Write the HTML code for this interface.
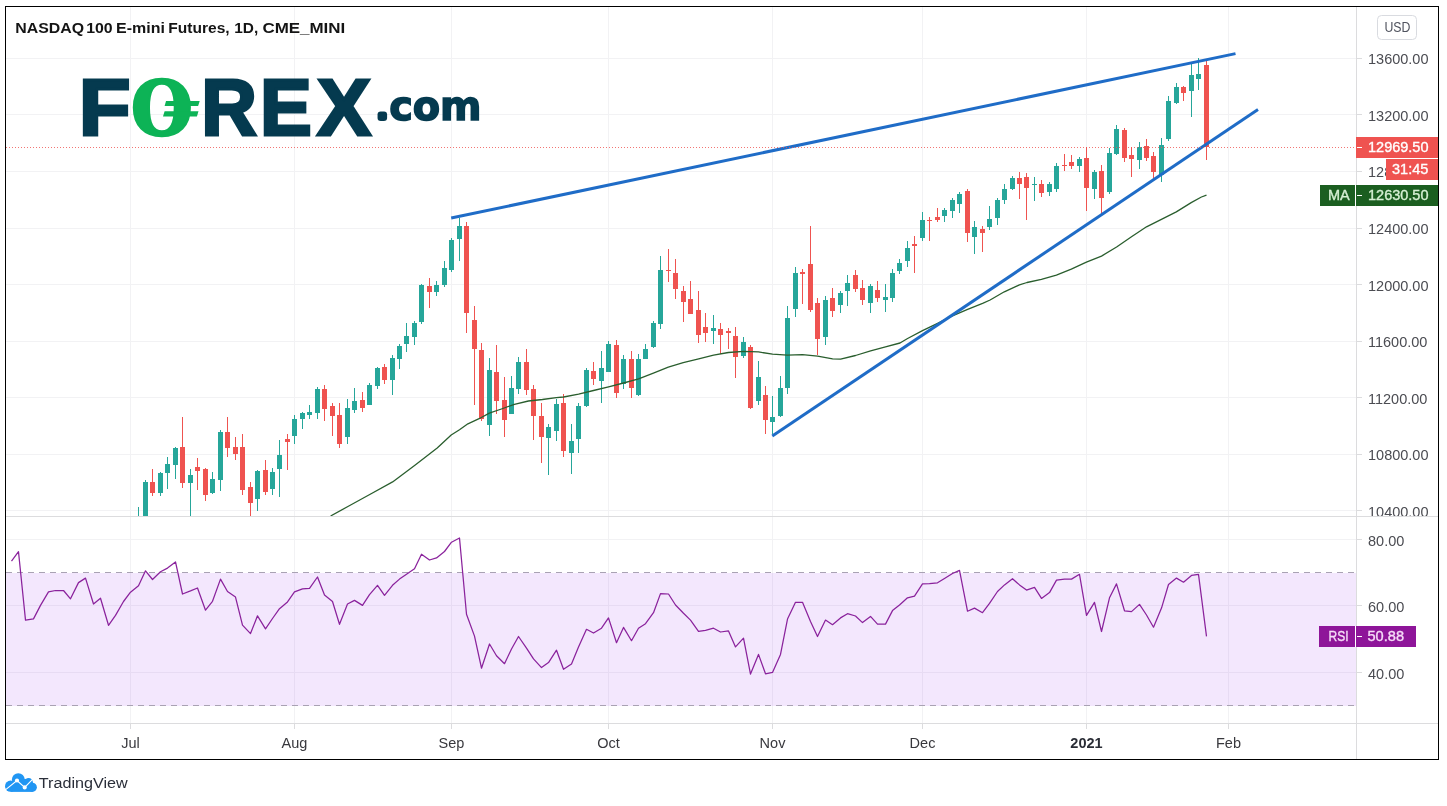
<!DOCTYPE html>
<html lang="en"><head><meta charset="utf-8"><title>NASDAQ 100 E-mini Futures, 1D, CME_MINI</title>
<style>
html,body{margin:0;padding:0;background:#fff;}
body{width:1447px;height:806px;overflow:hidden;position:relative;font-family:"Liberation Sans",sans-serif;}
svg{position:absolute;left:0;top:0;display:block;}
text{font-family:"Liberation Sans",sans-serif;}
.ax{font-size:14.5px;fill:#4b4c52;}
.lab{font-size:14.5px;fill:#fff;stroke:#fff;stroke-width:0.35px;}
.tm{font-size:14.5px;fill:#38383d;text-anchor:middle;}
</style></head><body>
<svg width="1447" height="806" viewBox="0 0 1447 806">
<rect x="0" y="0" width="1447" height="806" fill="#fff"/>
<defs><clipPath id="cm"><rect x="6" y="7" width="1350" height="509"/></clipPath><clipPath id="cr"><rect x="6" y="517" width="1350" height="206"/></clipPath><clipPath id="ca"><rect x="1357" y="7" width="81" height="509"/></clipPath></defs>
<g shape-rendering="crispEdges" fill="#f2f2f4">
<rect x="130" y="7" width="1" height="716"/>
<rect x="294" y="7" width="1" height="716"/>
<rect x="451" y="7" width="1" height="716"/>
<rect x="608" y="7" width="1" height="716"/>
<rect x="772" y="7" width="1" height="716"/>
<rect x="922" y="7" width="1" height="716"/>
<rect x="1086" y="7" width="1" height="716"/>
<rect x="1228" y="7" width="1" height="716"/>
<rect x="6" y="58" width="1350" height="1"/>
<rect x="6" y="114" width="1350" height="1"/>
<rect x="6" y="171" width="1350" height="1"/>
<rect x="6" y="228" width="1350" height="1"/>
<rect x="6" y="284" width="1350" height="1"/>
<rect x="6" y="341" width="1350" height="1"/>
<rect x="6" y="397" width="1350" height="1"/>
<rect x="6" y="454" width="1350" height="1"/>
<rect x="6" y="510" width="1350" height="1"/>
<rect x="6" y="539" width="1350" height="1"/>
<rect x="6" y="605" width="1350" height="1"/>
<rect x="6" y="672" width="1350" height="1"/>
</g>
<rect x="6" y="573" width="1350" height="133" fill="rgb(150,40,235)" fill-opacity="0.115"/>
<line x1="6" y1="572.5" x2="1356" y2="572.5" stroke="#a9a2b3" stroke-width="1" stroke-dasharray="6 5" shape-rendering="crispEdges"/>
<line x1="6" y1="705.5" x2="1356" y2="705.5" stroke="#a9a2b3" stroke-width="1" stroke-dasharray="6 5" shape-rendering="crispEdges"/>
<g clip-path="url(#cm)" shape-rendering="crispEdges">
<rect x="138" y="507" width="1" height="220" fill="#26a69a"/><rect x="136" y="528" width="5" height="199" fill="#26a69a"/>
<rect x="145" y="480" width="1" height="247" fill="#26a69a"/><rect x="143" y="482" width="5" height="245" fill="#26a69a"/>
<rect x="152" y="469" width="1" height="27" fill="#ef5350"/><rect x="150" y="482" width="5" height="11" fill="#ef5350"/>
<rect x="160" y="472" width="1" height="24" fill="#26a69a"/><rect x="158" y="473" width="5" height="20" fill="#26a69a"/>
<rect x="167" y="457" width="1" height="32" fill="#26a69a"/><rect x="165" y="464" width="5" height="9" fill="#26a69a"/>
<rect x="175" y="447" width="1" height="32" fill="#26a69a"/><rect x="173" y="448" width="5" height="17" fill="#26a69a"/>
<rect x="182" y="417" width="1" height="71" fill="#ef5350"/><rect x="180" y="447" width="5" height="36" fill="#ef5350"/>
<rect x="190" y="469" width="1" height="258" fill="#26a69a"/><rect x="188" y="475" width="5" height="8" fill="#26a69a"/>
<rect x="197" y="458" width="1" height="32" fill="#ef5350"/><rect x="195" y="467" width="5" height="4" fill="#ef5350"/>
<rect x="205" y="468" width="1" height="33" fill="#ef5350"/><rect x="203" y="469" width="5" height="26" fill="#ef5350"/>
<rect x="212" y="472" width="1" height="22" fill="#26a69a"/><rect x="210" y="479" width="5" height="14" fill="#26a69a"/>
<rect x="220" y="430" width="1" height="61" fill="#26a69a"/><rect x="218" y="432" width="5" height="48" fill="#26a69a"/>
<rect x="227" y="417" width="1" height="40" fill="#ef5350"/><rect x="225" y="432" width="5" height="16" fill="#ef5350"/>
<rect x="235" y="437" width="1" height="23" fill="#ef5350"/><rect x="233" y="447" width="5" height="7" fill="#ef5350"/>
<rect x="242" y="434" width="1" height="61" fill="#ef5350"/><rect x="240" y="447" width="5" height="43" fill="#ef5350"/>
<rect x="250" y="482" width="1" height="245" fill="#ef5350"/><rect x="248" y="487" width="5" height="16" fill="#ef5350"/>
<rect x="257" y="470" width="1" height="41" fill="#26a69a"/><rect x="255" y="471" width="5" height="28" fill="#26a69a"/>
<rect x="265" y="460" width="1" height="35" fill="#ef5350"/><rect x="263" y="470" width="5" height="22" fill="#ef5350"/>
<rect x="272" y="468" width="1" height="27" fill="#26a69a"/><rect x="270" y="472" width="5" height="17" fill="#26a69a"/>
<rect x="279" y="440" width="1" height="57" fill="#26a69a"/><rect x="277" y="455" width="5" height="14" fill="#26a69a"/>
<rect x="287" y="434" width="1" height="36" fill="#ef5350"/><rect x="285" y="439" width="5" height="3" fill="#ef5350"/>
<rect x="294" y="415" width="1" height="29" fill="#26a69a"/><rect x="292" y="419" width="5" height="17" fill="#26a69a"/>
<rect x="302" y="412" width="1" height="17" fill="#26a69a"/><rect x="300" y="413" width="5" height="6" fill="#26a69a"/>
<rect x="309" y="405" width="1" height="14" fill="#26a69a"/><rect x="307" y="412" width="5" height="3" fill="#26a69a"/>
<rect x="317" y="387" width="1" height="32" fill="#26a69a"/><rect x="315" y="389" width="5" height="24" fill="#26a69a"/>
<rect x="324" y="385" width="1" height="36" fill="#ef5350"/><rect x="322" y="389" width="5" height="20" fill="#ef5350"/>
<rect x="332" y="403" width="1" height="33" fill="#ef5350"/><rect x="330" y="406" width="5" height="10" fill="#ef5350"/>
<rect x="339" y="403" width="1" height="45" fill="#ef5350"/><rect x="337" y="415" width="5" height="29" fill="#ef5350"/>
<rect x="347" y="399" width="1" height="45" fill="#26a69a"/><rect x="345" y="408" width="5" height="29" fill="#26a69a"/>
<rect x="354" y="388" width="1" height="25" fill="#26a69a"/><rect x="352" y="401" width="5" height="9" fill="#26a69a"/>
<rect x="362" y="392" width="1" height="20" fill="#ef5350"/><rect x="360" y="400" width="5" height="8" fill="#ef5350"/>
<rect x="369" y="383" width="1" height="22" fill="#26a69a"/><rect x="367" y="385" width="5" height="20" fill="#26a69a"/>
<rect x="377" y="367" width="1" height="22" fill="#26a69a"/><rect x="375" y="368" width="5" height="18" fill="#26a69a"/>
<rect x="384" y="364" width="1" height="20" fill="#ef5350"/><rect x="382" y="367" width="5" height="13" fill="#ef5350"/>
<rect x="392" y="355" width="1" height="40" fill="#26a69a"/><rect x="390" y="358" width="5" height="22" fill="#26a69a"/>
<rect x="399" y="344" width="1" height="25" fill="#26a69a"/><rect x="397" y="346" width="5" height="13" fill="#26a69a"/>
<rect x="406" y="323" width="1" height="29" fill="#26a69a"/><rect x="404" y="336" width="5" height="8" fill="#26a69a"/>
<rect x="414" y="321" width="1" height="24" fill="#26a69a"/><rect x="412" y="323" width="5" height="14" fill="#26a69a"/>
<rect x="421" y="284" width="1" height="40" fill="#26a69a"/><rect x="419" y="285" width="5" height="37" fill="#26a69a"/>
<rect x="429" y="278" width="1" height="30" fill="#ef5350"/><rect x="427" y="286" width="5" height="6" fill="#ef5350"/>
<rect x="436" y="281" width="1" height="15" fill="#26a69a"/><rect x="434" y="285" width="5" height="7" fill="#26a69a"/>
<rect x="444" y="261" width="1" height="26" fill="#26a69a"/><rect x="442" y="268" width="5" height="17" fill="#26a69a"/>
<rect x="451" y="238" width="1" height="34" fill="#26a69a"/><rect x="449" y="240" width="5" height="30" fill="#26a69a"/>
<rect x="459" y="218" width="1" height="43" fill="#26a69a"/><rect x="457" y="226" width="5" height="13" fill="#26a69a"/>
<rect x="466" y="222" width="1" height="111" fill="#ef5350"/><rect x="464" y="226" width="5" height="87" fill="#ef5350"/>
<rect x="474" y="306" width="1" height="99" fill="#ef5350"/><rect x="472" y="320" width="5" height="29" fill="#ef5350"/>
<rect x="481" y="343" width="1" height="78" fill="#ef5350"/><rect x="479" y="350" width="5" height="69" fill="#ef5350"/>
<rect x="489" y="358" width="1" height="78" fill="#26a69a"/><rect x="487" y="370" width="5" height="55" fill="#26a69a"/>
<rect x="496" y="345" width="1" height="69" fill="#ef5350"/><rect x="494" y="372" width="5" height="29" fill="#ef5350"/>
<rect x="504" y="377" width="1" height="60" fill="#ef5350"/><rect x="502" y="400" width="5" height="20" fill="#ef5350"/>
<rect x="511" y="376" width="1" height="38" fill="#26a69a"/><rect x="509" y="388" width="5" height="26" fill="#26a69a"/>
<rect x="518" y="357" width="1" height="37" fill="#26a69a"/><rect x="516" y="362" width="5" height="27" fill="#26a69a"/>
<rect x="526" y="349" width="1" height="46" fill="#ef5350"/><rect x="524" y="362" width="5" height="28" fill="#ef5350"/>
<rect x="533" y="385" width="1" height="55" fill="#ef5350"/><rect x="531" y="389" width="5" height="27" fill="#ef5350"/>
<rect x="541" y="403" width="1" height="60" fill="#ef5350"/><rect x="539" y="416" width="5" height="21" fill="#ef5350"/>
<rect x="548" y="424" width="1" height="51" fill="#26a69a"/><rect x="546" y="427" width="5" height="11" fill="#26a69a"/>
<rect x="556" y="399" width="1" height="42" fill="#26a69a"/><rect x="554" y="404" width="5" height="27" fill="#26a69a"/>
<rect x="563" y="394" width="1" height="63" fill="#ef5350"/><rect x="561" y="403" width="5" height="48" fill="#ef5350"/>
<rect x="571" y="424" width="1" height="50" fill="#26a69a"/><rect x="569" y="441" width="5" height="12" fill="#26a69a"/>
<rect x="578" y="403" width="1" height="50" fill="#26a69a"/><rect x="576" y="406" width="5" height="33" fill="#26a69a"/>
<rect x="586" y="368" width="1" height="39" fill="#26a69a"/><rect x="584" y="370" width="5" height="36" fill="#26a69a"/>
<rect x="593" y="362" width="1" height="23" fill="#ef5350"/><rect x="591" y="371" width="5" height="8" fill="#ef5350"/>
<rect x="601" y="351" width="1" height="52" fill="#26a69a"/><rect x="599" y="368" width="5" height="13" fill="#26a69a"/>
<rect x="608" y="341" width="1" height="31" fill="#26a69a"/><rect x="606" y="344" width="5" height="28" fill="#26a69a"/>
<rect x="616" y="340" width="1" height="58" fill="#ef5350"/><rect x="614" y="345" width="5" height="48" fill="#ef5350"/>
<rect x="623" y="355" width="1" height="34" fill="#26a69a"/><rect x="621" y="359" width="5" height="25" fill="#26a69a"/>
<rect x="631" y="351" width="1" height="47" fill="#ef5350"/><rect x="629" y="359" width="5" height="29" fill="#ef5350"/>
<rect x="638" y="354" width="1" height="42" fill="#26a69a"/><rect x="636" y="359" width="5" height="36" fill="#26a69a"/>
<rect x="645" y="344" width="1" height="15" fill="#26a69a"/><rect x="643" y="349" width="5" height="10" fill="#26a69a"/>
<rect x="653" y="321" width="1" height="27" fill="#26a69a"/><rect x="651" y="323" width="5" height="24" fill="#26a69a"/>
<rect x="660" y="256" width="1" height="73" fill="#26a69a"/><rect x="658" y="270" width="5" height="54" fill="#26a69a"/>
<rect x="668" y="249" width="1" height="33" fill="#ef5350"/><rect x="666" y="270" width="5" height="1" fill="#ef5350"/>
<rect x="675" y="259" width="1" height="40" fill="#ef5350"/><rect x="673" y="273" width="5" height="16" fill="#ef5350"/>
<rect x="683" y="286" width="1" height="36" fill="#ef5350"/><rect x="681" y="291" width="5" height="11" fill="#ef5350"/>
<rect x="690" y="281" width="1" height="33" fill="#ef5350"/><rect x="688" y="299" width="5" height="15" fill="#ef5350"/>
<rect x="698" y="291" width="1" height="52" fill="#ef5350"/><rect x="696" y="310" width="5" height="25" fill="#ef5350"/>
<rect x="705" y="313" width="1" height="29" fill="#ef5350"/><rect x="703" y="327" width="5" height="6" fill="#ef5350"/>
<rect x="713" y="315" width="1" height="29" fill="#26a69a"/><rect x="711" y="328" width="5" height="3" fill="#26a69a"/>
<rect x="720" y="323" width="1" height="31" fill="#ef5350"/><rect x="718" y="329" width="5" height="6" fill="#ef5350"/>
<rect x="728" y="328" width="1" height="21" fill="#ef5350"/><rect x="726" y="331" width="5" height="2" fill="#ef5350"/>
<rect x="735" y="327" width="1" height="51" fill="#ef5350"/><rect x="733" y="336" width="5" height="21" fill="#ef5350"/>
<rect x="743" y="337" width="1" height="21" fill="#26a69a"/><rect x="741" y="342" width="5" height="14" fill="#26a69a"/>
<rect x="750" y="345" width="1" height="64" fill="#ef5350"/><rect x="748" y="347" width="5" height="61" fill="#ef5350"/>
<rect x="758" y="361" width="1" height="44" fill="#26a69a"/><rect x="756" y="377" width="5" height="24" fill="#26a69a"/>
<rect x="765" y="386" width="1" height="48" fill="#ef5350"/><rect x="763" y="395" width="5" height="25" fill="#ef5350"/>
<rect x="772" y="396" width="1" height="38" fill="#26a69a"/><rect x="770" y="417" width="5" height="5" fill="#26a69a"/>
<rect x="780" y="376" width="1" height="41" fill="#26a69a"/><rect x="778" y="388" width="5" height="28" fill="#26a69a"/>
<rect x="787" y="306" width="1" height="88" fill="#26a69a"/><rect x="785" y="318" width="5" height="70" fill="#26a69a"/>
<rect x="795" y="267" width="1" height="50" fill="#26a69a"/><rect x="793" y="273" width="5" height="36" fill="#26a69a"/>
<rect x="802" y="269" width="1" height="35" fill="#ef5350"/><rect x="800" y="272" width="5" height="2" fill="#ef5350"/>
<rect x="810" y="226" width="1" height="86" fill="#ef5350"/><rect x="808" y="264" width="5" height="46" fill="#ef5350"/>
<rect x="817" y="298" width="1" height="57" fill="#ef5350"/><rect x="815" y="303" width="5" height="36" fill="#ef5350"/>
<rect x="825" y="296" width="1" height="49" fill="#26a69a"/><rect x="823" y="300" width="5" height="37" fill="#26a69a"/>
<rect x="832" y="288" width="1" height="29" fill="#ef5350"/><rect x="830" y="298" width="5" height="13" fill="#ef5350"/>
<rect x="840" y="291" width="1" height="22" fill="#26a69a"/><rect x="838" y="293" width="5" height="12" fill="#26a69a"/>
<rect x="847" y="275" width="1" height="31" fill="#26a69a"/><rect x="845" y="283" width="5" height="8" fill="#26a69a"/>
<rect x="855" y="270" width="1" height="22" fill="#ef5350"/><rect x="853" y="275" width="5" height="14" fill="#ef5350"/>
<rect x="862" y="280" width="1" height="25" fill="#ef5350"/><rect x="860" y="288" width="5" height="12" fill="#ef5350"/>
<rect x="870" y="284" width="1" height="29" fill="#26a69a"/><rect x="868" y="286" width="5" height="17" fill="#26a69a"/>
<rect x="877" y="281" width="1" height="21" fill="#ef5350"/><rect x="875" y="290" width="5" height="8" fill="#ef5350"/>
<rect x="885" y="284" width="1" height="28" fill="#26a69a"/><rect x="883" y="297" width="5" height="3" fill="#26a69a"/>
<rect x="892" y="269" width="1" height="33" fill="#26a69a"/><rect x="890" y="273" width="5" height="25" fill="#26a69a"/>
<rect x="899" y="259" width="1" height="15" fill="#26a69a"/><rect x="897" y="263" width="5" height="8" fill="#26a69a"/>
<rect x="907" y="241" width="1" height="26" fill="#26a69a"/><rect x="905" y="248" width="5" height="13" fill="#26a69a"/>
<rect x="914" y="236" width="1" height="37" fill="#ef5350"/><rect x="912" y="244" width="5" height="2" fill="#ef5350"/>
<rect x="922" y="212" width="1" height="29" fill="#26a69a"/><rect x="920" y="220" width="5" height="18" fill="#26a69a"/>
<rect x="929" y="217" width="1" height="24" fill="#ef5350"/><rect x="927" y="220" width="5" height="1" fill="#ef5350"/>
<rect x="937" y="208" width="1" height="14" fill="#ef5350"/><rect x="935" y="217" width="5" height="3" fill="#ef5350"/>
<rect x="944" y="208" width="1" height="14" fill="#26a69a"/><rect x="942" y="210" width="5" height="6" fill="#26a69a"/>
<rect x="952" y="198" width="1" height="20" fill="#26a69a"/><rect x="950" y="200" width="5" height="11" fill="#26a69a"/>
<rect x="959" y="192" width="1" height="21" fill="#26a69a"/><rect x="957" y="194" width="5" height="10" fill="#26a69a"/>
<rect x="967" y="189" width="1" height="53" fill="#ef5350"/><rect x="965" y="191" width="5" height="42" fill="#ef5350"/>
<rect x="974" y="221" width="1" height="33" fill="#26a69a"/><rect x="972" y="227" width="5" height="10" fill="#26a69a"/>
<rect x="982" y="226" width="1" height="26" fill="#ef5350"/><rect x="980" y="229" width="5" height="4" fill="#ef5350"/>
<rect x="989" y="206" width="1" height="24" fill="#26a69a"/><rect x="987" y="219" width="5" height="8" fill="#26a69a"/>
<rect x="997" y="198" width="1" height="27" fill="#26a69a"/><rect x="995" y="200" width="5" height="18" fill="#26a69a"/>
<rect x="1004" y="184" width="1" height="20" fill="#26a69a"/><rect x="1002" y="189" width="5" height="11" fill="#26a69a"/>
<rect x="1012" y="176" width="1" height="14" fill="#26a69a"/><rect x="1010" y="178" width="5" height="11" fill="#26a69a"/>
<rect x="1019" y="172" width="1" height="27" fill="#ef5350"/><rect x="1017" y="178" width="5" height="6" fill="#ef5350"/>
<rect x="1026" y="173" width="1" height="47" fill="#ef5350"/><rect x="1024" y="177" width="5" height="11" fill="#ef5350"/>
<rect x="1034" y="177" width="1" height="24" fill="#26a69a"/><rect x="1032" y="184" width="5" height="1" fill="#26a69a"/>
<rect x="1041" y="180" width="1" height="17" fill="#ef5350"/><rect x="1039" y="184" width="5" height="9" fill="#ef5350"/>
<rect x="1049" y="182" width="1" height="14" fill="#26a69a"/><rect x="1047" y="184" width="5" height="8" fill="#26a69a"/>
<rect x="1056" y="163" width="1" height="29" fill="#26a69a"/><rect x="1054" y="166" width="5" height="23" fill="#26a69a"/>
<rect x="1064" y="154" width="1" height="17" fill="#ef5350"/><rect x="1062" y="165" width="5" height="1" fill="#ef5350"/>
<rect x="1071" y="155" width="1" height="14" fill="#ef5350"/><rect x="1069" y="162" width="5" height="4" fill="#ef5350"/>
<rect x="1079" y="157" width="1" height="15" fill="#26a69a"/><rect x="1077" y="159" width="5" height="7" fill="#26a69a"/>
<rect x="1086" y="147" width="1" height="64" fill="#ef5350"/><rect x="1084" y="158" width="5" height="30" fill="#ef5350"/>
<rect x="1094" y="170" width="1" height="29" fill="#26a69a"/><rect x="1092" y="172" width="5" height="17" fill="#26a69a"/>
<rect x="1101" y="165" width="1" height="49" fill="#ef5350"/><rect x="1099" y="171" width="5" height="27" fill="#ef5350"/>
<rect x="1109" y="148" width="1" height="46" fill="#26a69a"/><rect x="1107" y="153" width="5" height="39" fill="#26a69a"/>
<rect x="1116" y="125" width="1" height="30" fill="#26a69a"/><rect x="1114" y="129" width="5" height="25" fill="#26a69a"/>
<rect x="1124" y="128" width="1" height="34" fill="#ef5350"/><rect x="1122" y="130" width="5" height="28" fill="#ef5350"/>
<rect x="1131" y="147" width="1" height="30" fill="#ef5350"/><rect x="1129" y="155" width="5" height="4" fill="#ef5350"/>
<rect x="1139" y="142" width="1" height="27" fill="#26a69a"/><rect x="1137" y="147" width="5" height="13" fill="#26a69a"/>
<rect x="1146" y="139" width="1" height="22" fill="#ef5350"/><rect x="1144" y="146" width="5" height="12" fill="#ef5350"/>
<rect x="1153" y="152" width="1" height="26" fill="#ef5350"/><rect x="1151" y="156" width="5" height="16" fill="#ef5350"/>
<rect x="1161" y="138" width="1" height="44" fill="#26a69a"/><rect x="1159" y="145" width="5" height="30" fill="#26a69a"/>
<rect x="1168" y="96" width="1" height="45" fill="#26a69a"/><rect x="1166" y="101" width="5" height="38" fill="#26a69a"/>
<rect x="1176" y="83" width="1" height="21" fill="#26a69a"/><rect x="1174" y="87" width="5" height="16" fill="#26a69a"/>
<rect x="1183" y="86" width="1" height="15" fill="#ef5350"/><rect x="1181" y="87" width="5" height="6" fill="#ef5350"/>
<rect x="1191" y="64" width="1" height="53" fill="#26a69a"/><rect x="1189" y="75" width="5" height="16" fill="#26a69a"/>
<rect x="1198" y="58" width="1" height="32" fill="#26a69a"/><rect x="1196" y="74" width="5" height="5" fill="#26a69a"/>
<rect x="1206" y="60" width="1" height="100" fill="#ef5350"/><rect x="1204" y="65" width="5" height="82" fill="#ef5350"/>
</g>
<polyline clip-path="url(#cm)" points="330.6,516.0 347.9,506.5 370.2,494.2 392.6,481.9 414.9,465.2 437.2,447.9 451.2,435.0 459.5,429.7 467.9,423.8 479.1,418.7 489.3,413.1 501.4,409.0 514.4,404.3 528.4,401.0 542.4,399.5 556.3,397.6 563.6,397.0 578.6,394.2 593.5,390.5 608.6,386.8 623.5,383.0 638.6,378.8 653.4,373.2 668.3,367.2 683.2,362.6 698.7,358.8 713.6,355.1 728.4,352.5 743.5,351.3 758.5,351.9 772.5,354.2 787.4,355.1 802.5,354.7 817.6,356.1 832.6,358.9 840.6,359.2 855.5,355.5 870.6,350.9 885.5,346.8 900.0,343.0 907.6,338.5 922.5,330.7 937.6,323.3 952.5,315.8 967.6,309.3 982.6,303.4 990.1,300.0 1004.3,291.8 1019.4,284.9 1027.0,282.5 1041.4,279.3 1056.4,275.1 1071.3,269.1 1086.4,262.2 1101.5,256.1 1116.6,247.0 1131.5,236.8 1146.5,226.8 1161.4,219.3 1176.3,211.9 1191.2,202.6 1201.4,197.0 1206.5,195.1" fill="none" stroke="#2a5e2e" stroke-width="1.3" stroke-linejoin="round"/>
<g stroke="#1f6cc7" stroke-width="3" stroke-linecap="butt">
<line x1="451.2" y1="218" x2="1235.5" y2="53.6"/>
<line x1="772.3" y1="436" x2="1258" y2="109.5"/>
</g>
<line x1="6" y1="147.5" x2="1356" y2="147.5" stroke="#ef5350" stroke-opacity="0.8" stroke-width="1" stroke-dasharray="1 2" shape-rendering="crispEdges"/>
<polyline clip-path="url(#cr)" points="11.5,561.1 18.5,551.7 25.5,620.1 33.5,618.9 40.5,605.4 48.5,591.9 55.5,590.5 63.5,590.5 70.5,598.8 78.5,582.6 85.5,578.1 93.5,604.0 100.5,598.2 108.5,625.3 115.5,615.4 123.5,601.5 130.5,592.2 138.5,585.7 145.5,570.8 152.5,579.5 160.5,571.8 167.5,568.1 175.5,561.9 182.5,594.0 190.5,590.9 197.5,588.0 205.5,610.2 212.5,601.3 220.5,579.1 227.5,591.5 235.5,597.1 242.5,625.1 250.5,633.6 257.5,615.8 265.5,628.9 272.5,618.5 279.5,608.7 287.5,601.9 294.5,591.9 302.5,588.8 309.5,588.4 317.5,577.0 324.5,595.1 332.5,601.5 339.5,624.3 347.5,604.0 354.5,600.4 362.5,605.4 369.5,594.6 377.5,585.3 384.5,595.3 392.5,585.3 399.5,579.1 406.5,574.3 414.5,568.7 421.5,554.2 429.5,560.0 436.5,557.9 444.5,551.5 451.5,542.2 459.5,538.0 466.5,614.3 474.5,636.1 481.5,668.2 489.5,644.0 496.5,655.8 504.5,663.7 511.5,649.0 518.5,636.5 526.5,648.1 533.5,658.9 541.5,667.6 548.5,662.6 556.5,650.2 563.5,669.3 571.5,664.1 578.5,646.9 586.5,629.3 593.5,633.0 601.5,628.2 608.5,617.9 616.5,642.7 623.5,627.4 631.5,640.7 638.5,628.2 645.5,623.7 653.5,612.7 660.5,593.6 668.5,594.0 675.5,605.0 683.5,613.3 690.5,620.1 698.5,631.3 705.5,630.3 713.5,628.2 720.5,632.0 728.5,630.9 735.5,646.9 743.5,638.2 750.5,674.1 758.5,654.4 765.5,673.8 772.5,672.4 780.5,654.4 787.5,619.1 795.5,602.3 802.5,602.3 810.5,621.6 817.5,636.5 825.5,620.1 832.5,624.7 840.5,617.9 847.5,613.7 855.5,616.0 862.5,622.6 870.5,616.4 877.5,624.1 885.5,624.1 892.5,610.6 899.5,605.0 907.5,597.8 914.5,596.1 922.5,583.9 929.5,583.7 937.5,582.8 944.5,578.5 952.5,573.5 959.5,570.4 967.5,611.2 974.5,608.1 982.5,612.7 989.5,603.4 997.5,591.5 1004.5,584.9 1012.5,578.7 1019.5,584.9 1026.5,590.1 1034.5,587.4 1041.5,598.4 1049.5,592.6 1056.5,580.1 1064.5,579.1 1071.5,579.1 1079.5,574.3 1086.5,615.4 1094.5,602.3 1101.5,631.5 1109.5,597.8 1116.5,583.9 1124.5,610.8 1131.5,611.6 1139.5,604.4 1146.5,615.0 1153.5,627.2 1161.5,608.1 1168.5,584.5 1176.5,578.1 1183.5,582.2 1191.5,575.4 1198.5,574.3 1206.5,636.3" fill="none" stroke="#8a229c" stroke-width="1.25" stroke-linejoin="round"/>
<g shape-rendering="crispEdges" fill="#dcdcde">
<rect x="6" y="516" width="1432" height="1"/>
<rect x="6" y="723" width="1432" height="1"/>
<rect x="1356" y="7" width="1" height="752"/>
<rect x="1357" y="58" width="5" height="1"/>
<rect x="1357" y="114" width="5" height="1"/>
<rect x="1357" y="171" width="5" height="1"/>
<rect x="1357" y="228" width="5" height="1"/>
<rect x="1357" y="284" width="5" height="1"/>
<rect x="1357" y="341" width="5" height="1"/>
<rect x="1357" y="397" width="5" height="1"/>
<rect x="1357" y="454" width="5" height="1"/>
<rect x="1357" y="510" width="5" height="1"/>
<rect x="1357" y="539" width="5" height="1"/>
<rect x="1357" y="605" width="5" height="1"/>
<rect x="1357" y="672" width="5" height="1"/>
<rect x="130" y="724" width="1" height="5"/>
<rect x="294" y="724" width="1" height="5"/>
<rect x="451" y="724" width="1" height="5"/>
<rect x="608" y="724" width="1" height="5"/>
<rect x="772" y="724" width="1" height="5"/>
<rect x="922" y="724" width="1" height="5"/>
<rect x="1086" y="724" width="1" height="5"/>
<rect x="1228" y="724" width="1" height="5"/>
</g>
<g clip-path="url(#ca)">
<text class="ax" x="1368" y="64.3">13600.00</text>
<text class="ax" x="1368" y="120.8">13200.00</text>
<text class="ax" x="1368" y="177.4">12800.00</text>
<text class="ax" x="1368" y="233.9">12400.00</text>
<text class="ax" x="1368" y="290.5">12000.00</text>
<text class="ax" x="1368" y="347.1">11600.00</text>
<text class="ax" x="1368" y="403.6">11200.00</text>
<text class="ax" x="1368" y="460.1">10800.00</text>
<text class="ax" x="1368" y="516.7">10400.00</text>
</g>
<text class="ax" x="1368" y="545.6">80.00</text>
<text class="ax" x="1368" y="612.1">60.00</text>
<text class="ax" x="1368" y="678.7">40.00</text>
<text class="tm" x="130.5" y="747.8">Jul</text>
<text class="tm" x="294.5" y="747.8">Aug</text>
<text class="tm" x="451.5" y="747.8">Sep</text>
<text class="tm" x="608.5" y="747.8">Oct</text>
<text class="tm" x="772.5" y="747.8">Nov</text>
<text class="tm" x="922.5" y="747.8">Dec</text>
<text class="tm" x="1086.5" y="747.8" font-weight="bold" style="fill:#2a2d36">2021</text>
<text class="tm" x="1228.5" y="747.8">Feb</text>
<g shape-rendering="crispEdges">
<rect x="1356" y="137" width="82" height="21" fill="#ef5350"/>
<rect x="1357" y="147" width="5" height="1" fill="#fff"/>
<rect x="1386" y="158" width="52" height="1" fill="#fff"/>
<rect x="1386" y="159" width="52" height="21" fill="#ef5350"/>
<rect x="1320" y="185" width="35" height="21" fill="#1b5e20"/>
<rect x="1355" y="185" width="1" height="21" fill="#fff"/>
<rect x="1356" y="185" width="82" height="21" fill="#1b5e20"/>
<rect x="1357" y="195" width="5" height="1" fill="#fff"/>
<rect x="1319" y="626" width="36" height="21" fill="#8e1599"/>
<rect x="1355" y="626" width="1" height="21" fill="#fff"/>
<rect x="1356" y="626" width="60" height="21" fill="#8e1599"/>
<rect x="1357" y="636" width="5" height="1" fill="#fff"/>
</g>
<text class="lab" x="1368" y="151.9">12969.50</text>
<text class="lab" x="1392" y="174.4">31:45</text>
<text class="lab" x="1368" y="199.9" style="fill:#d7f0d4;stroke:#d7f0d4">12630.50</text>
<text class="lab" x="1328" y="199.9" style="fill:#d7f0d4;stroke:#d7f0d4">MA</text>
<text class="lab" x="1367.5" y="640.9" style="fill:#f6dcf8;stroke:#f6dcf8" textLength="36.5" lengthAdjust="spacingAndGlyphs">50.88</text>
<text class="lab" x="1328.5" y="640.9" style="fill:#f6dcf8;stroke:#f6dcf8" textLength="20" lengthAdjust="spacingAndGlyphs">RSI</text>
<rect x="1377.5" y="15.5" width="39" height="24" rx="4" ry="4" fill="#fff" stroke="#d9dbe0" stroke-width="1"/>
<text x="1397.4" y="31.7" text-anchor="middle" style="font-size:14.5px;fill:#50535e" textLength="26" lengthAdjust="spacingAndGlyphs">USD</text>
<text y="32.8" font-weight="bold" style="font-size:14.5px;fill:#141414"><tspan x="15.3" textLength="68.8" lengthAdjust="spacingAndGlyphs">NASDAQ</tspan> <tspan x="86.2" textLength="26.5" lengthAdjust="spacingAndGlyphs">100</tspan> <tspan x="116.1" textLength="48.8" lengthAdjust="spacingAndGlyphs">E-mini</tspan> <tspan x="168.3" textLength="61.3" lengthAdjust="spacingAndGlyphs">Futures,</tspan> <tspan x="234.2" textLength="24.0" lengthAdjust="spacingAndGlyphs">1D,</tspan> <tspan x="262.4" textLength="82.9" lengthAdjust="spacingAndGlyphs">CME_MINI</tspan></text>
<g id="forex" aria-label="FOREX.com"><text transform="translate(78.66,135.00) scale(1.0605,1.0000)" style="font-family:'Liberation Sans',sans-serif;font-weight:bold;font-size:80px;fill:#053a4f;stroke:#053a4f;stroke-width:3.0;stroke-linejoin:miter">F</text><text transform="translate(131.02,135.20) scale(0.9387,1.0000)" style="font-family:'DejaVu Serif',sans-serif;font-weight:bold;font-size:75.6px;fill:#0db356;stroke:#0db356;stroke-width:2.5;stroke-linejoin:miter">O</text><text transform="translate(201.24,135.00) scale(0.9648,1.0000)" style="font-family:'Liberation Sans',sans-serif;font-weight:bold;font-size:80px;fill:#053a4f;stroke:#053a4f;stroke-width:3.0;stroke-linejoin:miter">R</text><text transform="translate(260.02,135.00) scale(0.9708,1.0000)" style="font-family:'Liberation Sans',sans-serif;font-weight:bold;font-size:80px;fill:#053a4f;stroke:#053a4f;stroke-width:3.0;stroke-linejoin:miter">E</text><text transform="translate(317.11,135.00) scale(1.0125,1.0000)" style="font-family:'Liberation Sans',sans-serif;font-weight:bold;font-size:80px;fill:#053a4f;stroke:#053a4f;stroke-width:3.0;stroke-linejoin:miter">X</text><text transform="translate(378.64,117.80) scale(1.0444,1.0000)" style="font-family:'DejaVu Sans',sans-serif;font-weight:bold;font-size:18px;fill:#053a4f;stroke:#053a4f;stroke-width:6.0;stroke-linejoin:round">.</text><text transform="translate(389.13,120.00) scale(0.9717,1.0000)" style="font-family:'DejaVu Sans',sans-serif;font-weight:bold;font-size:41px;fill:#053a4f;stroke:#053a4f;stroke-width:1.6;stroke-linejoin:miter">com</text>
<polygon points="166,101 199.7,101 198.1,106.1 164.6,106.1" fill="#0db356"/>
<polygon points="164.6,111.2 198.5,111.2 196.9,116.4 163,116.4" fill="#0db356"/>
</g>
<rect x="5.5" y="6.5" width="1433" height="753" fill="none" stroke="#000" stroke-width="1" shape-rendering="crispEdges"/>
<g id="tv">
<g fill="#2196f3">
<circle cx="10.6" cy="786.2" r="5.6"/>
<circle cx="18.3" cy="779.6" r="6.4"/>
<circle cx="28.6" cy="782.4" r="4.3"/>
<circle cx="32.3" cy="787.3" r="4.6"/>
<rect x="10.6" y="783" width="21.7" height="8.9"/>
<rect x="12" y="780.6" width="18" height="4"/>
<circle cx="24.9" cy="781" r="2.2"/>
</g>
<polyline points="6.0,789.4 17,780.5 24.7,787.4 33,778.9" fill="none" stroke="#fff" stroke-width="1.1"/>
<circle cx="17" cy="780.5" r="2.05" fill="#fff"/>
<circle cx="24.7" cy="787.4" r="2.05" fill="#fff"/>
<text x="38.8" y="787.6" textLength="89" lengthAdjust="spacingAndGlyphs" style="font-size:15.5px;fill:#2a2e39">TradingView</text>
</g>
</svg>
</body></html>
